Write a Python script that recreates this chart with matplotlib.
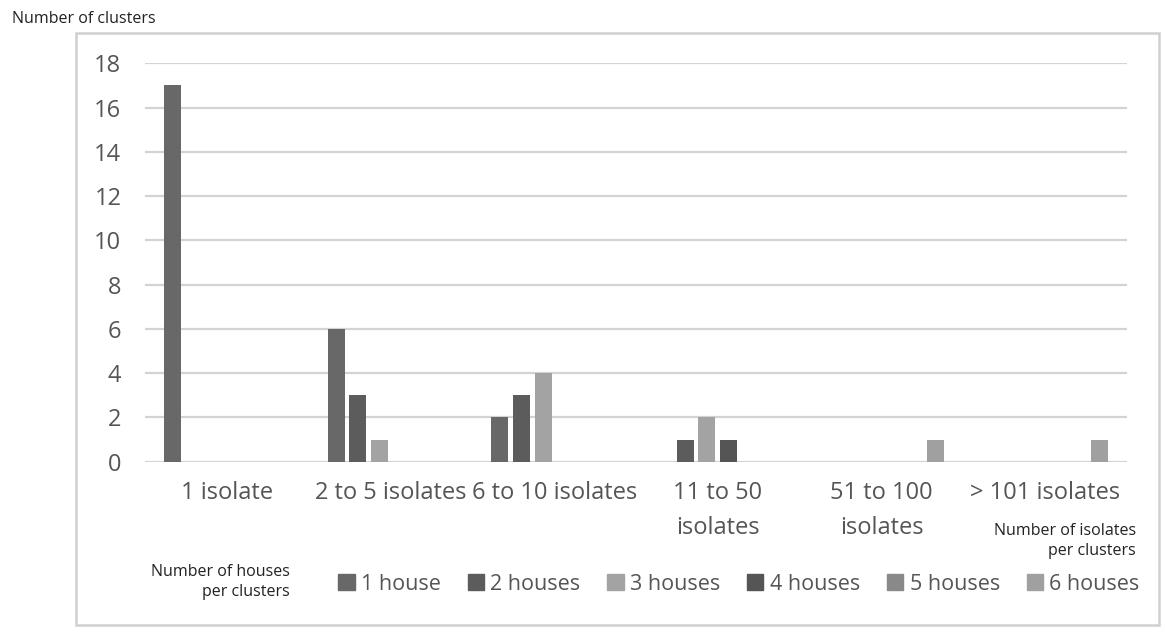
import numpy as np
import matplotlib.pyplot as plt
from matplotlib.patches import Rectangle

plt.rcParams['font.family'] = ['Open Sans', 'DejaVu Sans']

categories = ['1 isolate', '2 to 5 isolates', '6 to 10 isolates',
              '11 to 50\nisolates', '51 to 100\nisolates', '> 101 isolates']
series = ['1 house', '2 houses', '3 houses', '4 houses', '5 houses', '6 houses']
house1 = [17, 6, 2, 0, 0, 0]
house2 = [0, 3, 3, 1, 0, 0]
house3 = [0, 1, 4, 2, 0, 0]
house4 = [0, 0, 0, 1, 0, 0]
house5 = [0, 0, 0, 0, 0, 0]
house6 = [0, 0, 0, 0, 1, 1]
values = [house1, house2, house3, house4, house5, house6]
colors = ['#686868', '#5c5c5c', '#a3a3a3', '#555555', '#898989', '#a0a0a0']
yticks = [0, 2, 4, 6, 8, 10, 12, 14, 16, 18]

fig = plt.figure(figsize=(11.65, 6.35), dpi=100)
W, H = 1165, 635

# outer chart frame
fig.patches.append(Rectangle((76 / W, 1 - 625 / H), (1159 - 76) / W, (625 - 33) / H,
                             transform=fig.transFigure, fill=False,
                             edgecolor='#d0d0d0', linewidth=1.8))

ax = fig.add_axes([145 / W, 1 - 461.7 / H, (1127 - 145) / W, (461.7 - 63.3) / H])
x = np.arange(len(categories))
step = 0.1326
width = 0.104
for i, (vals, c) in enumerate(zip(values, colors)):
    ax.bar(x + (i - 2.5) * step, vals, width, color=c, label=series[i], zorder=3)

ax.set_xlim(-0.5, 5.5)
ax.set_ylim(0, 18)
ax.set_yticks(yticks)
ax.yaxis.grid(True, color='#d3d3d3', linewidth=1.6, zorder=0)
for s in ax.spines.values():
    s.set_visible(False)
ax.tick_params(axis='both', length=0, labelsize=17, colors='#555555')
ax.tick_params(axis='y', pad=17)
ax.tick_params(axis='x', pad=14)
ax.set_xticks(x)
ax.set_xticklabels(categories, linespacing=1.6)

fig.text(12 / W, 1 - 19 / H, 'Number of clusters', fontsize=11.5,
         color='#222222', va='center', ha='left')
fig.text(1136 / W, 1 - 541 / H, 'Number of isolates\nper clusters', fontsize=11.5,
         color='#222222', va='center', ha='right', linespacing=1.4)
fig.text(290 / W, 1 - 582 / H, 'Number of houses\nper clusters', fontsize=11.5,
         color='#222222', va='center', ha='right', linespacing=1.4)

handles = [Rectangle((0, 0), 1, 1, color=c) for c in colors]
fig.legend(handles, series, loc='center', bbox_to_anchor=(739 / W, 1 - 584 / H),
           ncol=6, frameon=False, fontsize=15.5, handlelength=0.75, handleheight=0.75,
           handletextpad=0.3, columnspacing=1.25, labelcolor='#555555')

fig.savefig('out.png', dpi=100, facecolor='white')
